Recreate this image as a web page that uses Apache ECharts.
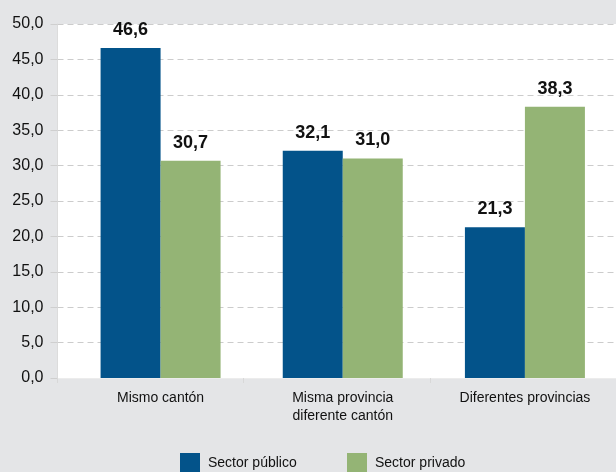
<!DOCTYPE html>
<html>
<head>
<meta charset="utf-8">
<style>
  html, body { margin: 0; padding: 0; background: #e4e5e7; }
  #chart { width: 616px; height: 472px; }
</style>
<script src="https://cdn.jsdelivr.net/npm/echarts@6/dist/echarts.min.js"></script>
</head>
<body>
<div id="chart"></div>
<script>
const categories = ['Mismo cantón', 'Misma provincia\ndiferente cantón', 'Diferentes provincias'];
const seriesNames = ['Sector público', 'Sector privado'];
const publico = [46.6, 32.1, 21.3];
const privado = [30.7, 31.0, 38.3];
const yMin = 0, yMax = 50, yStep = 5;

const FONT = '"Liberation Sans Narrow", "Liberation Sans", Arial, sans-serif';
const fmt = v => Number(v).toFixed(1).replace('.', ',');

const chart = echarts.init(document.getElementById('chart'), null, { renderer: 'canvas' });
chart.setOption({
  backgroundColor: '#e4e5e7',
  animation: false,
  textStyle: { fontFamily: FONT },
  grid: [
    { left: 57.5, right: 0, top: 24, bottom: 94, show: true, backgroundColor: '#ffffff', borderWidth: 0 },
    { left: 69.5, right: -2.5, top: 24, bottom: 94 }
  ],
  legend: [
    { data: [seriesNames[0]], left: 175, top: 448, itemWidth: 20, itemHeight: 20, icon: 'rect',
      textStyle: { fontFamily: FONT, fontSize: 14, color: '#111', padding: [0, 0, 0, 3] } },
    { data: [seriesNames[1]], left: 342, top: 448, itemWidth: 20, itemHeight: 20, icon: 'rect',
      textStyle: { fontFamily: FONT, fontSize: 14, color: '#111', padding: [0, 0, 0, 3] } }
  ],
  xAxis: [
    { type: 'category', gridIndex: 0, data: ['', '', ''], boundaryGap: true,
      axisLine: { show: true, lineStyle: { color: '#ececec', width: 1 } },
      axisTick: { show: true, length: 5, lineStyle: { color: '#d8d8d8' } },
      axisLabel: { show: false } },
    { type: 'category', gridIndex: 1, data: categories,
      axisLine: { show: false }, axisTick: { show: false },
      axisLabel: { fontFamily: FONT, fontSize: 14, color: '#111', margin: 11, lineHeight: 18 } }
  ],
  yAxis: [
    { type: 'value', gridIndex: 0, min: yMin, max: yMax, interval: yStep,
      axisLine: { show: true, lineStyle: { color: '#dcdcdc' } },
      axisTick: { show: true, length: 7, lineStyle: { color: '#cfcfcf' } },
      splitLine: { show: true, lineStyle: { color: '#cccccc', type: [6, 4], width: 1 } },
      axisLabel: { fontFamily: FONT, fontSize: 16, color: '#111', margin: 14, formatter: fmt } },
    { type: 'value', gridIndex: 1, min: yMin, max: yMax, interval: yStep, show: false }
  ],
  series: [
    { name: seriesNames[0], type: 'bar', xAxisIndex: 1, yAxisIndex: 1, data: publico,
      barWidth: 60, barGap: '0%', itemStyle: { color: '#03538a' },
      label: { show: true, position: 'top', distance: 9, formatter: p => fmt(p.value),
        fontFamily: FONT, fontSize: 18, fontWeight: 'bold', color: '#111' } },
    { name: seriesNames[1], type: 'bar', xAxisIndex: 1, yAxisIndex: 1, data: privado,
      barWidth: 60, barGap: '0%', itemStyle: { color: '#94b475' },
      label: { show: true, position: 'top', distance: 9, formatter: p => fmt(p.value),
        fontFamily: FONT, fontSize: 18, fontWeight: 'bold', color: '#111' } }
  ]
});
</script>
</body>
</html>
